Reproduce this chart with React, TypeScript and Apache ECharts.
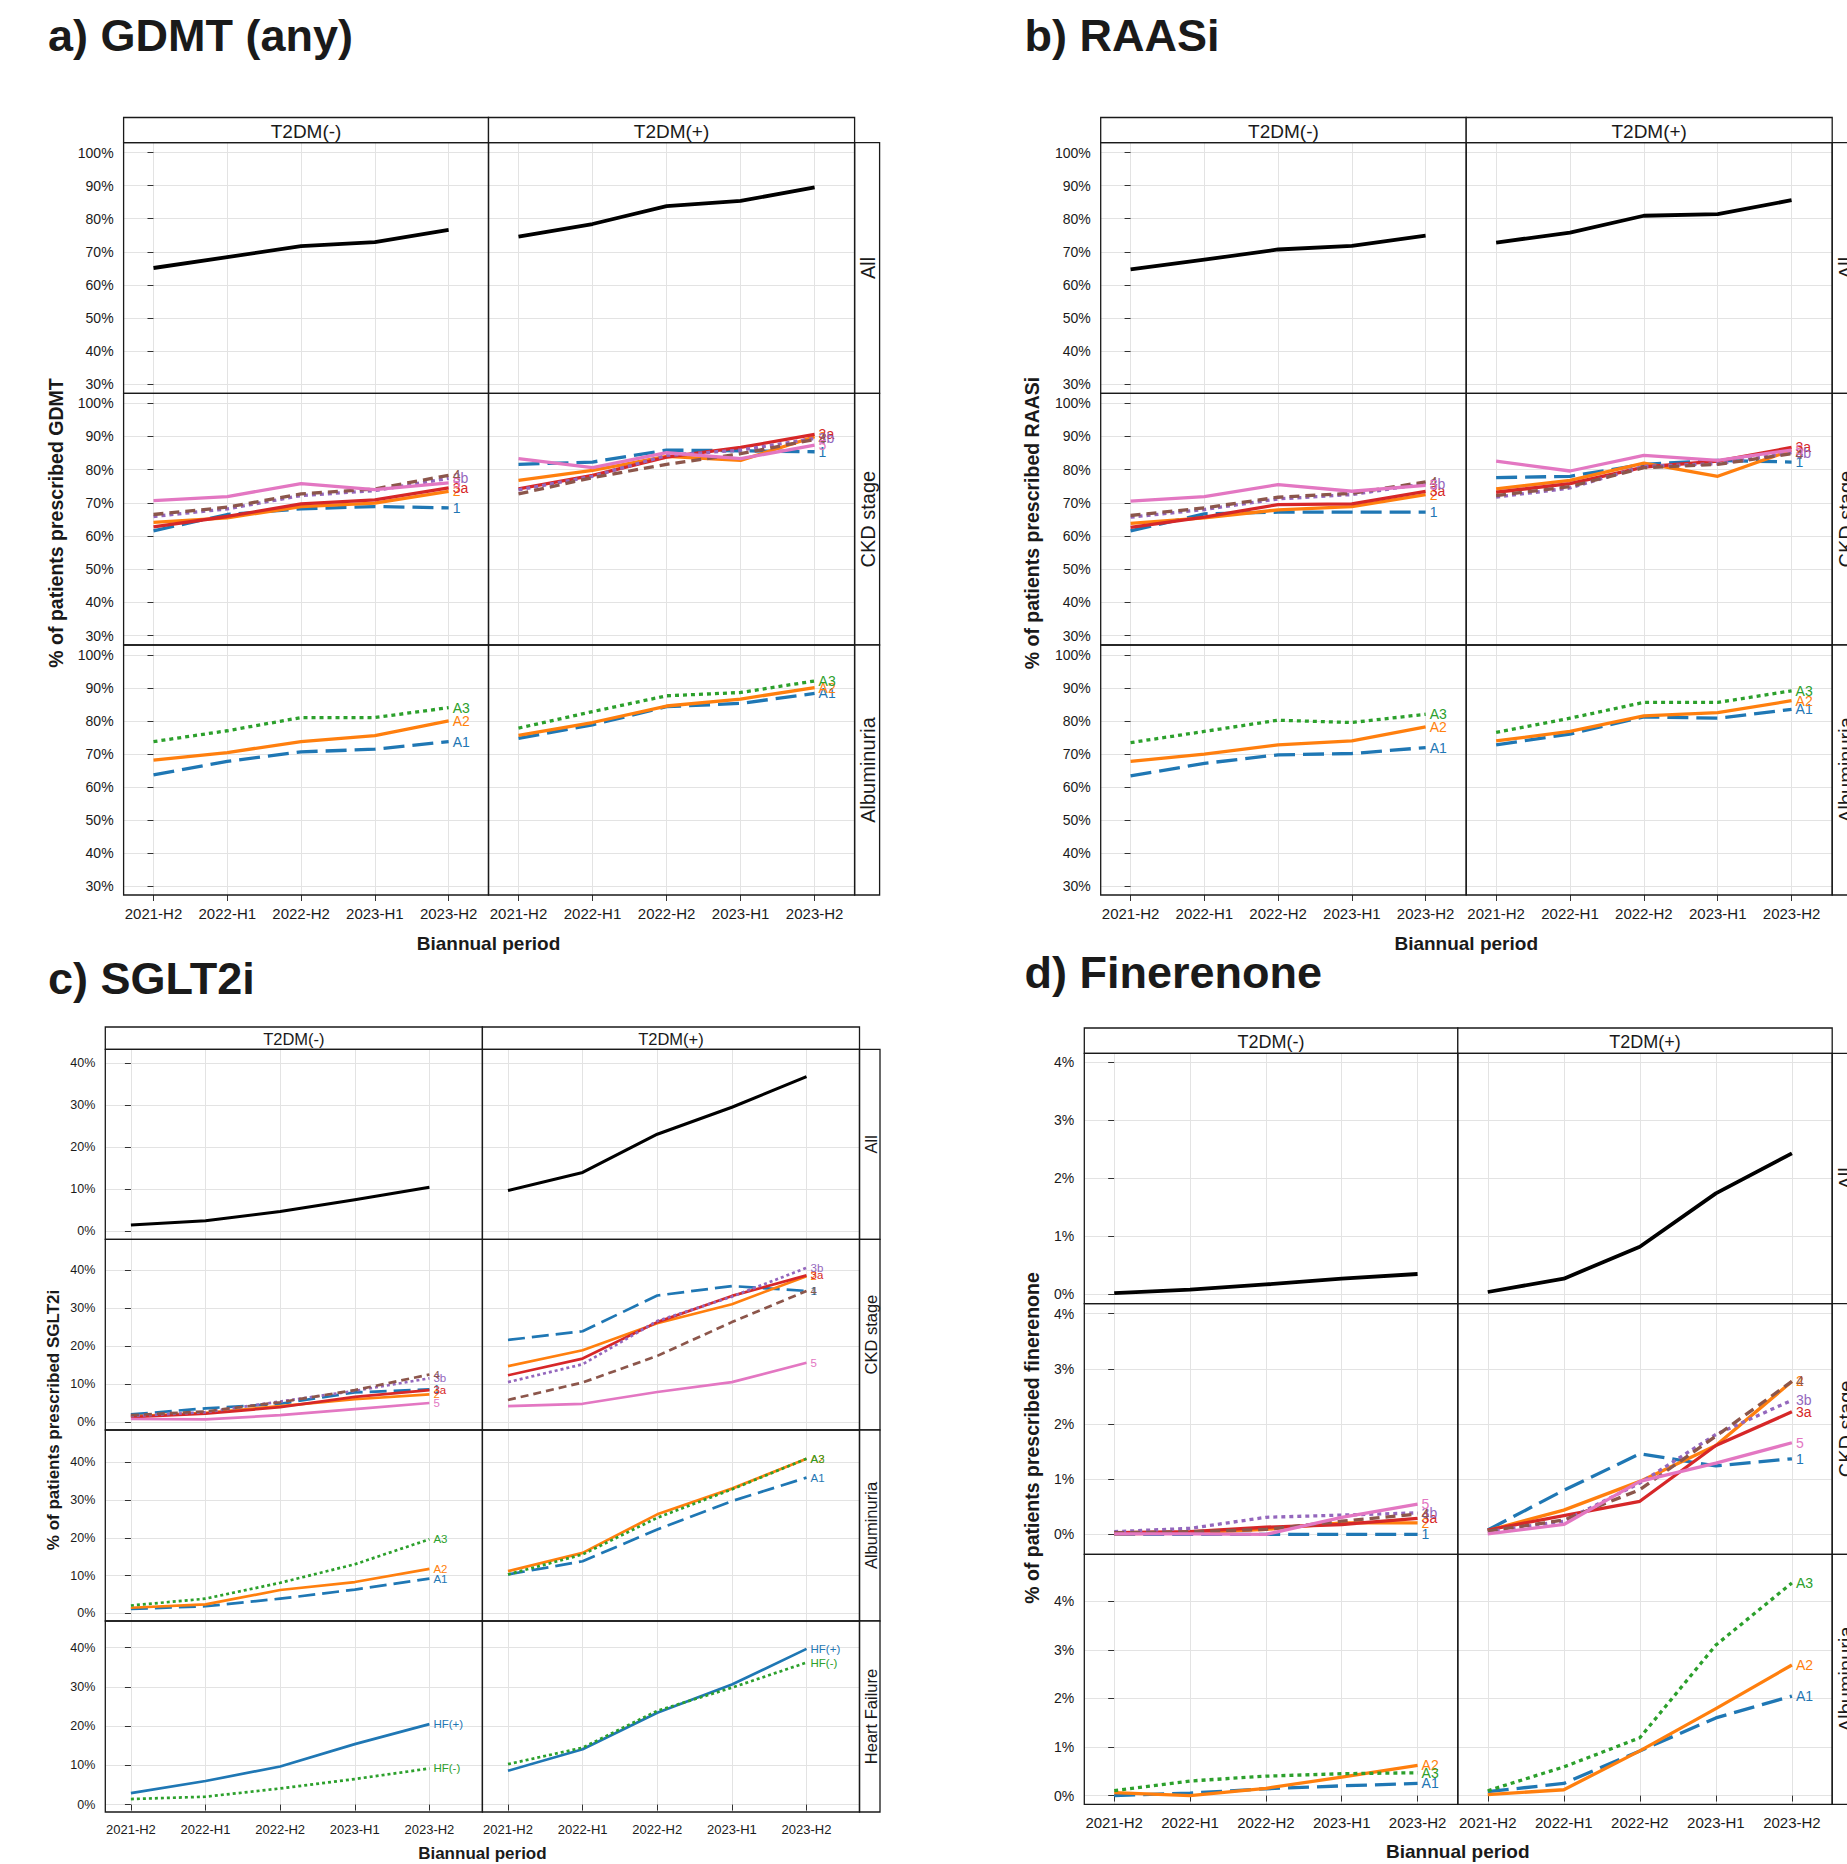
import React, { useEffect, useRef } from 'react';
import * as echarts from 'echarts';

const W = 1847;
const H = 1864;
const FONT = "'Liberation Sans', Arial, Helvetica, sans-serif";

const periods = ['2021-H2', '2022-H1', '2022-H2', '2023-H1', '2023-H2'];
const colNames = ['T2DM(-)', 'T2DM(+)'];

// ---------- a) GDMT (any) ----------
const gdmtAllNeg = [65.1, 68.4, 71.7, 72.9, 76.6];
const gdmtAllPos = [74.6, 78.4, 83.8, 85.4, 89.5];
const gdmtCkdNeg1 = [61.6, 66.5, 68.2, 68.9, 68.5];
const gdmtCkdNeg2 = [64.1, 65.5, 68.9, 69.9, 73.5];
const gdmtCkdNeg3a = [62.8, 65.9, 69.7, 70.9, 74.5];
const gdmtCkdNeg3b = [65.9, 68.2, 72.2, 73.7, 77.4];
const gdmtCkdNeg4 = [66.5, 68.7, 72.7, 74.2, 78.3];
const gdmtCkdNeg5 = [70.7, 71.9, 75.8, 74.0, 76.0];
const gdmtCkdPos1 = [81.6, 82.3, 85.9, 85.7, 85.4];
const gdmtCkdPos2 = [76.8, 79.8, 84.0, 82.8, 89.9];
const gdmtCkdPos3a = [74.2, 78.3, 83.8, 86.7, 90.6];
const gdmtCkdPos3b = [73.9, 78.0, 84.3, 85.9, 89.4];
const gdmtCkdPos4 = [72.7, 77.6, 81.6, 84.8, 89.1];
const gdmtCkdPos5 = [83.3, 80.6, 85.1, 83.3, 87.4];
const gdmtAlbNegA1 = [63.6, 67.7, 70.6, 71.4, 73.7];
const gdmtAlbNegA2 = [68.1, 70.4, 73.7, 75.5, 80.0];
const gdmtAlbNegA3 = [73.7, 77.0, 81.0, 81.0, 84.0];
const gdmtAlbPosA1 = [74.7, 78.8, 84.3, 85.3, 88.3];
const gdmtAlbPosA2 = [75.6, 79.5, 84.5, 86.6, 90.1];
const gdmtAlbPosA3 = [77.8, 82.8, 87.6, 88.6, 92.1];

// ---------- b) RAASi ----------
const raasAllNeg = [64.7, 67.6, 70.7, 71.8, 74.9];
const raasAllPos = [72.8, 75.8, 80.9, 81.4, 85.6];
const raasCkdNeg1 = [61.6, 66.7, 67.2, 67.2, 67.2];
const raasCkdNeg2 = [63.8, 65.5, 67.9, 68.9, 72.5];
const raasCkdNeg3a = [62.6, 65.7, 69.5, 69.7, 73.5];
const raasCkdNeg3b = [65.7, 68.0, 71.2, 72.5, 75.8];
const raasCkdNeg4 = [66.2, 68.5, 71.7, 72.9, 76.3];
const raasCkdNeg5 = [70.5, 71.9, 75.5, 73.5, 75.3];
const raasCkdPos1 = [77.6, 78.0, 81.6, 82.8, 82.3];
const raasCkdPos2 = [74.2, 76.8, 82.0, 78.0, 85.9];
const raasCkdPos3a = [73.2, 75.8, 80.8, 82.6, 86.7];
const raasCkdPos3b = [71.7, 74.5, 81.0, 81.8, 85.1];
const raasCkdPos4 = [72.2, 74.9, 80.6, 81.6, 84.8];
const raasCkdPos5 = [82.6, 79.6, 84.3, 82.8, 85.9];
const raasAlbNegA1 = [63.3, 67.1, 69.7, 70.1, 71.9];
const raasAlbNegA2 = [67.7, 69.9, 72.7, 73.9, 78.2];
const raasAlbNegA3 = [73.4, 76.8, 80.2, 79.5, 82.0];
const raasAlbPosA1 = [72.7, 76.0, 81.2, 80.8, 83.5];
const raasAlbPosA2 = [73.9, 76.8, 81.5, 82.5, 86.1];
const raasAlbPosA3 = [76.5, 80.8, 85.6, 85.6, 89.1];

// ---------- c) SGLT2i ----------
const sgltAllNeg = [1.5, 2.5, 4.7, 7.5, 10.5];
const sgltAllPos = [9.7, 14.0, 23.1, 29.5, 36.8];
const sgltCkdNeg1 = [2.0, 3.6, 4.8, 7.8, 8.6];
const sgltCkdNeg2 = [1.5, 2.4, 4.2, 6.0, 7.3];
const sgltCkdNeg3a = [1.3, 2.2, 3.9, 6.6, 8.4];
const sgltCkdNeg3b = [1.6, 2.6, 5.4, 8.2, 11.5];
const sgltCkdNeg4 = [1.8, 2.8, 5.2, 8.4, 12.5];
const sgltCkdNeg5 = [0.8, 0.7, 1.8, 3.4, 5.0];
const sgltCkdPos1 = [21.6, 23.9, 33.3, 35.8, 34.5];
const sgltCkdPos2 = [14.7, 18.9, 26.0, 31.0, 38.4];
const sgltCkdPos3a = [12.3, 16.7, 26.3, 33.2, 38.6];
const sgltCkdPos3b = [10.5, 15.2, 26.6, 33.0, 40.6];
const sgltCkdPos4 = [5.8, 10.4, 17.4, 26.3, 34.5];
const sgltCkdPos5 = [4.2, 4.8, 7.9, 10.5, 15.6];
const sgltAlbNegA1 = [1.2, 1.9, 3.9, 6.3, 9.2];
const sgltAlbNegA2 = [1.5, 2.4, 6.2, 8.3, 11.8];
const sgltAlbNegA3 = [2.1, 3.9, 8.1, 13.0, 19.6];
const sgltAlbPosA1 = [10.3, 13.8, 22.2, 29.7, 35.9];
const sgltAlbPosA2 = [11.2, 16.0, 26.2, 33.0, 40.9];
const sgltAlbPosA3 = [10.3, 15.6, 25.3, 32.8, 40.9];
const sgltHfNegPlus = [2.9, 6.0, 9.7, 15.4, 20.5];
const sgltHfNegMinus = [1.4, 2.0, 4.1, 6.5, 9.2];
const sgltHfPosPlus = [8.6, 14.1, 23.4, 30.6, 39.7];
const sgltHfPosMinus = [10.3, 14.5, 23.9, 29.8, 36.2];

// ---------- d) Finerenone ----------
const finAllNeg = [0.02, 0.08, 0.17, 0.27, 0.35];
const finAllPos = [0.04, 0.27, 0.82, 1.74, 2.43];
const finCkdNeg1 = [0, 0, 0, 0, 0];
const finCkdNeg2 = [0.01, 0.03, 0.09, 0.21, 0.21];
const finCkdNeg3a = [0.03, 0.05, 0.13, 0.18, 0.29];
const finCkdNeg3b = [0.05, 0.11, 0.31, 0.35, 0.39];
const finCkdNeg4 = [0.03, 0.05, 0.09, 0.24, 0.37];
const finCkdNeg5 = [0.01, 0.01, 0.0, 0.31, 0.55];
const finCkdPos1 = [0.08, 0.8, 1.46, 1.24, 1.37];
const finCkdPos2 = [0.07, 0.44, 0.96, 1.61, 2.77];
const finCkdPos3a = [0.08, 0.34, 0.6, 1.61, 2.22];
const finCkdPos3b = [0.05, 0.24, 0.93, 1.81, 2.43];
const finCkdPos4 = [0.06, 0.26, 0.81, 1.78, 2.77];
const finCkdPos5 = [0.01, 0.18, 0.96, 1.29, 1.66];
const finAlbNegA1 = [0, 0.05, 0.14, 0.2, 0.25];
const finAlbNegA2 = [0.06, 0, 0.15, 0.38, 0.62];
const finAlbNegA3 = [0.1, 0.3, 0.4, 0.45, 0.47];
const finAlbPosA1 = [0.08, 0.25, 0.92, 1.6, 2.05];
const finAlbPosA2 = [0.02, 0.12, 0.92, 1.79, 2.69];
const finAlbPosA3 = [0.1, 0.59, 1.19, 3.1, 4.38];

// ---------- styles ----------
const BLUE = '#1f77b4';
const ORANGE = '#ff7f0e';
const RED = '#d62728';
const PURPLE = '#9467bd';
const BROWN = '#8c564b';
const PINK = '#e377c2';
const GREEN = '#2ca02c';

const STYLE: Record<string, { color: string; dash: any; w: number }> = {
  All: { color: '#000000', dash: 'solid', w: 1.15 },
  '1': { color: BLUE, dash: 'long', w: 1 },
  '2': { color: ORANGE, dash: 'solid', w: 1 },
  '3a': { color: RED, dash: 'solid', w: 1 },
  '3b': { color: PURPLE, dash: 'dot', w: 1 },
  '4': { color: BROWN, dash: 'dash', w: 1 },
  '5': { color: PINK, dash: 'solid', w: 1 },
  A1: { color: BLUE, dash: 'long', w: 1 },
  A2: { color: ORANGE, dash: 'solid', w: 1 },
  A3: { color: GREEN, dash: 'dot', w: 1 },
  'HF(+)': { color: BLUE, dash: 'solid', w: 1 },
  'HF(-)': { color: GREEN, dash: 'dot', w: 1 },
};

const L = (name: string, data: number[]) => ({ name, data });

const ckd = (a: number[], b: number[], c: number[], d: number[], e: number[], f: number[]) => [
  L('1', a), L('2', b), L('3a', c), L('3b', d), L('4', e), L('5', f),
];
const alb = (a: number[], b: number[], c: number[]) => [L('A1', a), L('A2', b), L('A3', c)];

const panels: any[] = [
  {
    title: 'a) GDMT (any)', titleX: 48, titleY: 35,
    cols: [[123.6, 488.5], [488.5, 854.6]],
    stripTop: 117.5, stripFont: 19, rowStripW: 25, rowStripFont: 20,
    xMin: -0.405, xMax: 4.54, xFont: 15, yFont: 14, yStep: 10, endFont: 14, lw: 3.3,
    dashes: { long: [21, 8], dash: [10, 6], dot: [4, 4] },
    xTitleX: 488.5, xTitleY: 943, xTitleFont: 19,
    yTitle: '% of patients prescribed GDMT', yTitleX: 56, yTitleY: 523, yTitleFont: 19.5,
    rows: [
      { label: 'All', y: [142.7, 393.3], min: 27.2, max: 103, neg: [L('All', gdmtAllNeg)], pos: [L('All', gdmtAllPos)] },
      { label: 'CKD stage', y: [393.3, 645], min: 27.2, max: 103,
        neg: ckd(gdmtCkdNeg1, gdmtCkdNeg2, gdmtCkdNeg3a, gdmtCkdNeg3b, gdmtCkdNeg4, gdmtCkdNeg5),
        pos: ckd(gdmtCkdPos1, gdmtCkdPos2, gdmtCkdPos3a, gdmtCkdPos3b, gdmtCkdPos4, gdmtCkdPos5) },
      { label: 'Albuminuria', y: [645, 895], min: 27.2, max: 103,
        neg: alb(gdmtAlbNegA1, gdmtAlbNegA2, gdmtAlbNegA3),
        pos: alb(gdmtAlbPosA1, gdmtAlbPosA2, gdmtAlbPosA3) },
    ],
  },
  {
    title: 'b) RAASi', titleX: 1024.5, titleY: 35,
    cols: [[1100.7, 1466.2], [1466.2, 1832.2]],
    stripTop: 117.5, stripFont: 19, rowStripW: 25, rowStripFont: 20,
    xMin: -0.405, xMax: 4.55, xFont: 15, yFont: 14, yStep: 10, endFont: 14, lw: 3.3,
    dashes: { long: [21, 8], dash: [10, 6], dot: [4, 4] },
    xTitleX: 1466.2, xTitleY: 943, xTitleFont: 19,
    yTitle: '% of patients prescribed RAASi', yTitleX: 1031.6, yTitleY: 523, yTitleFont: 19.5,
    rows: [
      { label: 'All', y: [142.7, 393.3], min: 27.2, max: 103, neg: [L('All', raasAllNeg)], pos: [L('All', raasAllPos)] },
      { label: 'CKD stage', y: [393.3, 645], min: 27.2, max: 103,
        neg: ckd(raasCkdNeg1, raasCkdNeg2, raasCkdNeg3a, raasCkdNeg3b, raasCkdNeg4, raasCkdNeg5),
        pos: ckd(raasCkdPos1, raasCkdPos2, raasCkdPos3a, raasCkdPos3b, raasCkdPos4, raasCkdPos5) },
      { label: 'Albuminuria', y: [645, 895], min: 27.2, max: 103,
        neg: alb(raasAlbNegA1, raasAlbNegA2, raasAlbNegA3),
        pos: alb(raasAlbPosA1, raasAlbPosA2, raasAlbPosA3) },
    ],
  },
  {
    title: 'c) SGLT2i', titleX: 48, titleY: 978,
    cols: [[105.3, 482.4], [482.4, 859.5]],
    stripTop: 1027, stripFont: 16.5, rowStripW: 20.5, rowStripFont: 16.5,
    xMin: -0.343, xMax: 4.71, xFont: 13, yFont: 12.5, yStep: 10, endFont: 11.5, lw: 2.7,
    dashes: { long: [17, 7], dash: [8, 5], dot: [3, 3] },
    xTitleX: 482.4, xTitleY: 1853, xTitleFont: 17,
    yTitle: '% of patients prescribed SGLT2i', yTitleX: 53.5, yTitleY: 1420, yTitleFont: 17,
    rows: [
      { label: 'All', y: [1049.3, 1239.3], min: -1.9, max: 43.3, neg: [L('All', sgltAllNeg)], pos: [L('All', sgltAllPos)] },
      { label: 'CKD stage', y: [1239.3, 1430], min: -2.1, max: 48.1,
        neg: ckd(sgltCkdNeg1, sgltCkdNeg2, sgltCkdNeg3a, sgltCkdNeg3b, sgltCkdNeg4, sgltCkdNeg5),
        pos: ckd(sgltCkdPos1, sgltCkdPos2, sgltCkdPos3a, sgltCkdPos3b, sgltCkdPos4, sgltCkdPos5) },
      { label: 'Albuminuria', y: [1430, 1621], min: -2.0, max: 48.5,
        neg: alb(sgltAlbNegA1, sgltAlbNegA2, sgltAlbNegA3),
        pos: alb(sgltAlbPosA1, sgltAlbPosA2, sgltAlbPosA3) },
      { label: 'Heart Failure', y: [1621, 1812], min: -1.9, max: 46.8,
        neg: [L('HF(+)', sgltHfNegPlus), L('HF(-)', sgltHfNegMinus)],
        pos: [L('HF(+)', sgltHfPosPlus), L('HF(-)', sgltHfPosMinus)] },
    ],
  },
  {
    title: 'd) Finerenone', titleX: 1024.5, titleY: 972,
    cols: [[1084.3, 1457.8], [1457.8, 1832.2]],
    stripTop: 1028, stripFont: 18, rowStripW: 25, rowStripFont: 20,
    xMin: -0.394, xMax: 4.53, xFont: 15, yFont: 14, yStep: 1, endFont: 14, lw: 3.3,
    dashes: { long: [21, 8], dash: [10, 6], dot: [4, 4] },
    xTitleX: 1457.8, xTitleY: 1851, xTitleFont: 19,
    yTitle: '% of patients prescribed finerenone', yTitleX: 1031.6, yTitleY: 1438, yTitleFont: 19.5,
    rows: [
      { label: 'All', y: [1053.3, 1303.6], min: -0.16, max: 4.155, neg: [L('All', finAllNeg)], pos: [L('All', finAllPos)] },
      { label: 'CKD stage', y: [1303.6, 1554.3], min: -0.36, max: 4.18,
        neg: ckd(finCkdNeg1, finCkdNeg2, finCkdNeg3a, finCkdNeg3b, finCkdNeg4, finCkdNeg5),
        pos: ckd(finCkdPos1, finCkdPos2, finCkdPos3a, finCkdPos3b, finCkdPos4, finCkdPos5) },
      { label: 'Albuminuria', y: [1554.3, 1804.3], min: -0.18, max: 4.97,
        neg: alb(finAlbNegA1, finAlbNegA2, finAlbNegA3),
        pos: alb(finAlbPosA1, finAlbPosA2, finAlbPosA3) },
    ],
  },
];

const BORDER = '#1a1a1a';
const GRIDC = '#e3e3e3';
const TEXTC = '#1a1a1a';

function ticks(min: number, max: number, step: number) {
  const out: number[] = [];
  for (let k = Math.ceil(min / step - 1e-9); k * step <= max + 1e-9; k++) out.push(+(k * step).toFixed(6));
  return out;
}
const isMult = (v: number, s: number) => Math.abs(v / s - Math.round(v / s)) < 1e-6;

function txt(text: string, x: number, y: number, size: number, bold: boolean, align: string, rotation = 0) {
  return {
    type: 'text', x, y, rotation, z: 120, silent: true,
    style: {
      text, fontSize: size, fontWeight: bold ? 'bold' : 'normal', fontFamily: FONT,
      fill: TEXTC, textAlign: align, textVerticalAlign: 'middle', verticalAlign: 'middle',
    },
  };
}
function box(x: number, y: number, w: number, h: number, fill: string) {
  return {
    type: 'rect', z: 110, silent: true,
    shape: { x, y, width: w, height: h },
    style: { fill, stroke: BORDER, lineWidth: 1.3 },
  };
}

function buildOption() {
  const grid: any[] = [];
  const xAxis: any[] = [];
  const yAxis: any[] = [];
  const series: any[] = [];
  const graphic: any[] = [];

  panels.forEach((p) => {
    graphic.push(txt(p.title, p.titleX, p.titleY, 45, true, 'left'));
    const top0 = p.rows[0].y[0];
    p.cols.forEach((c: number[], ci: number) => {
      graphic.push(box(c[0], p.stripTop, c[1] - c[0], top0 - p.stripTop, '#ffffff'));
      graphic.push(txt(colNames[ci], (c[0] + c[1]) / 2, (p.stripTop + top0) / 2 + 1, p.stripFont, false, 'center'));
    });
    const right = p.cols[1][1];
    const xt = ticks(p.xMin, p.xMax, 1);
    p.rows.forEach((r: any, ri: number) => {
      graphic.push(box(right, r.y[0], p.rowStripW, r.y[1] - r.y[0], '#ffffff'));
      graphic.push(txt(r.label, right + p.rowStripW / 2 + 1, (r.y[0] + r.y[1]) / 2, p.rowStripFont, false, 'center', Math.PI / 2));
      const yt = ticks(r.min, r.max, p.yStep);
      const isBottom = ri === p.rows.length - 1;
      p.cols.forEach((c: number[], ci: number) => {
        const gi = grid.length;
        const isLeft = ci === 0;
        grid.push({
          left: c[0], top: r.y[0], width: c[1] - c[0], height: r.y[1] - r.y[0],
          show: false, containLabel: false, outerBoundsMode: 'none',
        });
        xAxis.push({
          type: 'value', gridIndex: gi, min: p.xMin, max: p.xMax,
          minInterval: 1, maxInterval: 1, splitNumber: 5,
          axisLine: { show: false },
          axisTick: { show: isBottom, length: 6, customValues: xt, lineStyle: { color: '#333333', width: 1 } },
          axisLabel: {
            show: isBottom, customValues: xt, margin: 11,
            fontSize: p.xFont, fontFamily: FONT, color: TEXTC,
            formatter: (v: number) => (isMult(v, 1) && periods[Math.round(v)] ? periods[Math.round(v)] : ''),
          },
          splitLine: { show: true, lineStyle: { color: GRIDC, width: 1 } },
        });
        yAxis.push({
          type: 'value', gridIndex: gi, min: r.min, max: r.max,
          minInterval: p.yStep, maxInterval: p.yStep, splitNumber: 6,
          axisLine: { show: false },
          axisTick: { show: isLeft, length: 6, customValues: yt, lineStyle: { color: '#333333', width: 1 } },
          axisLabel: {
            show: isLeft, customValues: yt, margin: 10,
            fontSize: p.yFont, fontFamily: FONT, color: TEXTC,
            formatter: (v: number) => (isMult(v, p.yStep) ? `${Math.round(v)}%` : ''),
          },
          splitLine: { show: true, lineStyle: { color: GRIDC, width: 1 } },
        });
        const lines = isLeft ? r.neg : r.pos;
        lines.forEach((l: any) => {
          const st = STYLE[l.name];
          const dash = st.dash === 'solid' ? 'solid' : p.dashes[st.dash];
          series.push({
            type: 'line', name: l.name, xAxisIndex: gi, yAxisIndex: gi,
            data: l.data.map((v: number, i: number) => [i, v]),
            symbol: 'none', showSymbol: false, silent: true, z: 3,
            lineStyle: { color: st.color, width: p.lw * st.w, type: dash, cap: 'butt', join: 'round' },
            endLabel: l.name === 'All'
              ? { show: false }
              : { show: true, formatter: l.name, color: st.color, fontSize: p.endFont, fontFamily: FONT, distance: 4 },
            emphasis: { disabled: true },
          });
        });
        graphic.push(box(c[0], r.y[0], c[1] - c[0], r.y[1] - r.y[0], 'none'));
      });
    });
    graphic.push(txt('Biannual period', p.xTitleX, p.xTitleY, p.xTitleFont, true, 'center'));
    graphic.push(txt(p.yTitle, p.yTitleX, p.yTitleY, p.yTitleFont, true, 'center', Math.PI / 2));
  });

  return {
    animation: false,
    backgroundColor: '#ffffff',
    grid, xAxis, yAxis, series,
    graphic: { elements: graphic },
  };
}

export default function App() {
  const ref = useRef<HTMLDivElement>(null);
  useEffect(() => {
    if (!ref.current) return;
    const chart = echarts.init(ref.current, null, { renderer: 'svg', width: W, height: H });
    chart.setOption(buildOption() as any);
    return () => chart.dispose();
  }, []);
  return (
    <div
      ref={ref}
      style={{ position: 'fixed', left: 0, top: 0, width: W, height: H, background: '#ffffff' }}
    />
  );
}
